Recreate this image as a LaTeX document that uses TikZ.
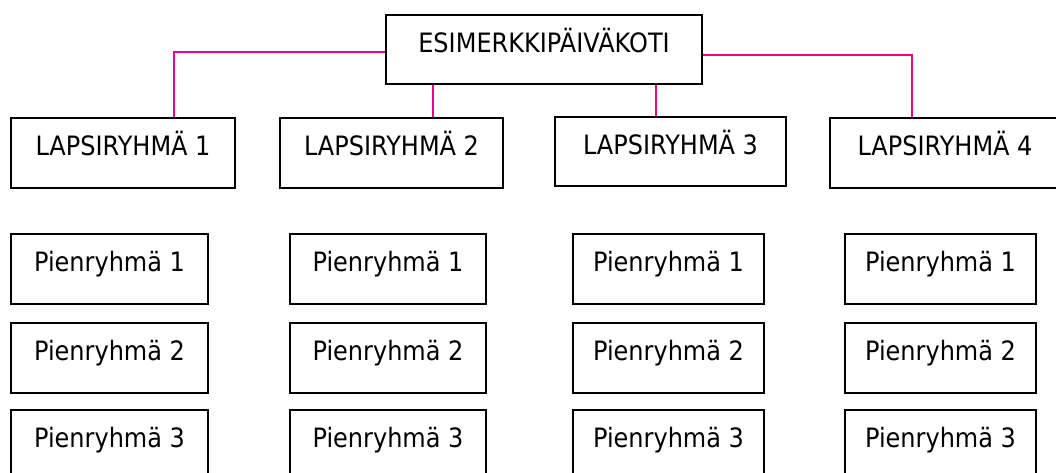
\documentclass[tikz,border=0pt]{standalone}
\usepackage{fontspec}
\setmainfont{DejaVu Sans}[FakeStretch=0.9]
\usepackage{tikz}
\usetikzlibrary{positioning}
\definecolor{linkpink}{RGB}{236,0,140}

\begin{document}
\begin{tikzpicture}[x=0.75pt,y=-0.75pt]
		\useasboundingbox (0,0) rectangle (1056,473);
		\begin{scope}
            [
                styleBox/.style={
					draw, line width=1.5pt, anchor=north west,
					inner xsep=0pt, inner ysep=0pt,
					text height=28.5pt, text depth=24pt,
					minimum width=#1,
					font=\fontsize{20pt}{24pt}\selectfont
					},
				styleTop/.style={styleBox=237pt, text depth=23.25pt},
            ]
			\node(esim)[styleTop] at (385,14) {ESIMERKKIPÄIVÄKOTI};

			\node(lr1)[styleBox=168pt] at (10,117) {LAPSIRYHMÄ 1};
			\node(lr2)[styleBox=167.25pt] at (279,117) {LAPSIRYHMÄ 2};
			\node(lr3)[styleBox=173.25pt, text depth=23.25pt] at (554,116) {LAPSIRYHMÄ 3};
			\node(lr4)[styleBox=172.5pt] at (829,117) {LAPSIRYHMÄ 4};

			\node(pr11)[styleBox=147.75pt] at (10,233) {Pienryhmä 1};
			\node(pr12)[styleBox=147.75pt] at (10,322) {Pienryhmä 2};
			\node(pr13)[styleBox=147.75pt] at (10,409) {Pienryhmä 3};

			\node(pr21)[styleBox=147pt] at (289,233) {Pienryhmä 1};
			\node(pr22)[styleBox=147pt] at (289,322) {Pienryhmä 2};
			\node(pr23)[styleBox=147pt] at (289,409) {Pienryhmä 3};

			\node(pr31)[styleBox=143.25pt] at (572,233) {Pienryhmä 1};
			\node(pr32)[styleBox=143.25pt] at (572,322) {Pienryhmä 2};
			\node(pr33)[styleBox=143.25pt] at (572,409) {Pienryhmä 3};

			\node(pr41)[styleBox=143.25pt] at (844,233) {Pienryhmä 1};
			\node(pr42)[styleBox=143.25pt] at (844,322) {Pienryhmä 2};
			\node(pr43)[styleBox=143.25pt] at (844,409) {Pienryhmä 3};
		\end{scope}
		\begin{scope}
            [link/.style={draw=linkpink, line width=1.2pt}]
			\coordinate(k1) at (174,52);
			\coordinate(k2) at (433,0);
			\coordinate(k3) at (656,0);
			\coordinate(k4) at (912,55);

			\draw[link] (esim.west |- k1) -| (lr1.north -| k1);
			\draw[link] (esim.south -| k2) -- (lr2.north -| k2);
			\draw[link] (esim.south -| k3) -- (lr3.north -| k3);
			\draw[link] (esim.east |- k4) -| (lr4.north -| k4);
		\end{scope}
    \end{tikzpicture}
\end{document}
